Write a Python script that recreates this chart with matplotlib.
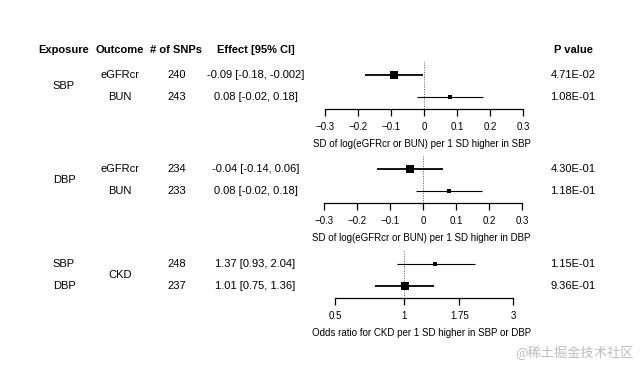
import matplotlib
matplotlib.use('Agg')
import matplotlib.pyplot as plt

plt.rcParams['font.family'] = ['Liberation Sans', 'DejaVu Sans']

# Table / forest data, one entry per row (top to bottom)
exposure = ['SBP', 'SBP', 'DBP', 'DBP', 'SBP', 'DBP']
outcome = ['eGFRcr', 'BUN', 'eGFRcr', 'BUN', 'CKD', 'CKD']
n_snps = [240, 243, 234, 233, 248, 237]
estimate = [-0.09, 0.08, -0.04, 0.08, 1.37, 1.01]
ci_low = [-0.18, -0.02, -0.14, -0.02, 0.93, 0.75]
ci_high = [-0.002, 0.18, 0.06, 0.18, 2.04, 1.36]
effect_text = ['-0.09 [-0.18, -0.002]', '0.08 [-0.02, 0.18]',
               '-0.04 [-0.14, 0.06]', '0.08 [-0.02, 0.18]',
               '1.37 [0.93, 2.04]', '1.01 [0.75, 1.36]']
p_value = ['4.71E-02', '1.08E-01', '4.30E-01', '1.18E-01', '1.15E-01', '9.36E-01']

headers = ['Exposure', 'Outcome', '# of SNPs', 'Effect [95% CI]', 'P value']
panel_rows = [(0, 1), (2, 3), (4, 5)]
panel_xlabel = ['SD of log(eGFRcr or BUN) per 1 SD higher in SBP',
                'SD of log(eGFRcr or BUN) per 1 SD higher in DBP',
                'Odds ratio for CKD per 1 SD higher in SBP or DBP']
lin_ticks = [-0.3, -0.2, -0.1, 0, 0.1, 0.2, 0.3]
or_ticks = [0.5, 1, 1.75, 3]
panel_ticks = [lin_ticks, lin_ticks, or_ticks]
panel_ref = [0, 0, 1]
panel_log = [False, False, True]

# styling: which rows get the large box
big_box = [True, False, True, False, False, True]

W, H = 640, 375
fig = plt.figure(figsize=(W / 100, H / 100), dpi=100)
fig.patch.set_facecolor('white')


def fx(x):
    return x / W


def fy(y):
    return 1 - y / H


col_x = [64, 120, 176.5, 255.5, 573]
FS = 8

for cx, h in zip(col_x, headers):
    fig.text(fx(cx), fy(50), h, ha='center', va='center', fontsize=FS,
             weight='bold')

# pixel layout of each forest panel: axis line y, x of first / last tick
panel_y0 = [109, 203, 298]
panel_x = [(325, 523), (324, 522), (335, 513)]
lo_off, hi_off = 12, 34      # row centres above the axis line
ax_h = 47

for p, (r0, r1) in enumerate(panel_rows):
    y0 = panel_y0[p]
    xl, xr = panel_x[p]
    ax = fig.add_axes([fx(xl), fy(y0), (xr - xl) / W, ax_h / H])
    ax.set_facecolor('none')
    a = -lo_off / (hi_off - lo_off)
    b = a + ax_h / (hi_off - lo_off)
    ax.set_ylim(a, b)
    ticks = panel_ticks[p]
    if panel_log[p]:
        ax.set_xscale('log')
    ax.set_xlim(ticks[0], ticks[-1])
    ax.minorticks_off()
    ax.set_xticks(ticks)
    ax.set_xticklabels([f'{t:g}'.replace('-', '\u2212') for t in ticks])
    ax.set_yticks([])
    for s in ['left', 'right', 'top']:
        ax.spines[s].set_visible(False)
    ax.spines['bottom'].set_linewidth(0.9)
    ax.tick_params(axis='x', direction='out', length=5, width=0.9,
                   labelsize=7, pad=4.5)
    ax.axvline(panel_ref[p], color='#555555', ls=(0, (1, 1.5)), lw=0.7,
               zorder=1)

    rows = [r0, r1]
    for k, r in enumerate(rows):
        yv = 1 - k
        big = big_box[r]
        ax.plot([ci_low[r], ci_high[r]], [yv, yv], color='black',
                lw=1.3 if big else 0.8, solid_capstyle='butt', zorder=2,
                clip_on=False)
        ax.plot([estimate[r]], [yv], marker='s', color='black',
                ms=5.2 if big else 2.2, mew=0, zorder=3, clip_on=False)

        ypx = y0 - (hi_off if k == 0 else lo_off)
        fig.text(fx(col_x[2]), fy(ypx), str(n_snps[r]), ha='center',
                 va='center', fontsize=FS)
        fig.text(fx(col_x[3]), fy(ypx), effect_text[r], ha='center',
                 va='center', fontsize=FS)
        fig.text(fx(col_x[4]), fy(ypx), p_value[r], ha='center',
                 va='center', fontsize=FS)

    # exposure / outcome: merged cell when both rows share the value
    ymid = y0 - (hi_off + lo_off) / 2
    for col, vals in [(0, exposure), (1, outcome)]:
        if vals[r0] == vals[r1]:
            fig.text(fx(col_x[col]), fy(ymid), vals[r0], ha='center',
                     va='center', fontsize=FS)
        else:
            fig.text(fx(col_x[col]), fy(y0 - hi_off), vals[r0], ha='center',
                     va='center', fontsize=FS)
            fig.text(fx(col_x[col]), fy(y0 - lo_off), vals[r1], ha='center',
                     va='center', fontsize=FS)

    fig.text(fx((xl + xr) / 2 - 2), fy(y0 + 35), panel_xlabel[p],
             ha='center', va='center', fontsize=7)

# site watermark
fig.text(fx(574), fy(353), '@稀土掘金技术社区', ha='center', va='center',
         fontsize=9.5, color='#bdbdbd',
         family=['Noto Sans CJK SC', 'DejaVu Sans'])

fig.savefig('out.png', dpi=100, facecolor='white')
plt.close(fig)
